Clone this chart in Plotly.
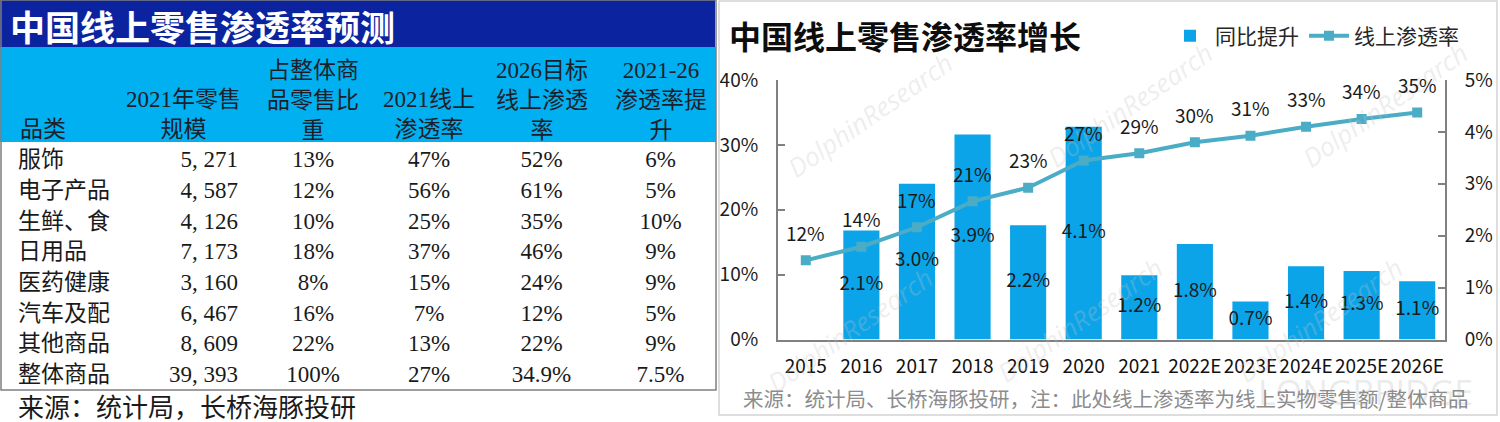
import plotly.graph_objects as go

W, H = 1500, 422

def px(x):
    return x / W

def py(y):
    return 1 - y / H

# ---------------- Left table data ----------------
tbl_title = "中国线上零售渗透率预测"
tbl_headers = ["品类", "2021年零售<br>规模", "占整体商<br>品零售比<br>重",
               "2021线上<br>渗透率", "2026目标<br>线上渗透<br>率", "2021-26<br>渗透率提<br>升"]
tbl_category = ["服饰", "电子产品", "生鲜、食", "日用品", "医药健康", "汽车及配", "其他商品", "整体商品"]
tbl_retail_2021 = ["5, 271", "4, 587", "4, 126", "7, 173", "3, 160", "6, 467", "8, 609", "39, 393"]
tbl_share = ["13%", "12%", "10%", "18%", "8%", "16%", "22%", "100%"]
tbl_online_2021 = ["47%", "56%", "25%", "37%", "15%", "7%", "13%", "27%"]
tbl_target_2026 = ["52%", "61%", "35%", "46%", "24%", "12%", "22%", "34.9%"]
tbl_uplift = ["6%", "5%", "10%", "9%", "9%", "5%", "9%", "7.5%"]
tbl_source = "来源：统计局，长桥海豚投研"

# ---------------- Right chart data ----------------
chart_title = "中国线上零售渗透率增长"
years = ["2015", "2016", "2017", "2018", "2019", "2020", "2021",
         "2022E", "2023E", "2024E", "2025E", "2026E"]
yoy_uplift = [None, 0.021, 0.030, 0.0395, 0.022, 0.041, 0.0124,
              0.0184, 0.0073, 0.0141, 0.0132, 0.0112]
yoy_labels = ["", "2.1%", "3.0%", "3.9%", "2.2%", "4.1%", "1.2%",
              "1.8%", "0.7%", "1.4%", "1.3%", "1.1%"]
online_pen = [0.122, 0.143, 0.173, 0.213, 0.234, 0.276, 0.287,
              0.304, 0.314, 0.328, 0.340, 0.350]
pen_labels = ["12%", "14%", "17%", "21%", "23%", "27%", "29%",
              "30%", "31%", "33%", "34%", "35%"]
chart_source = "来源：统计局、长桥海豚投研，注：此处线上渗透率为线上实物零售额/整体商品"

SANS = "Noto Sans CJK SC"
SERIF = "Liberation Serif, Noto Sans CJK SC"
BAR_C = "#0ba4e8"
LINE_C = "#4bacc6"
AX_C = "#808080"
TBL_TOP, HDR_H, ROW_H = 47, 95, 30.7

fig = go.Figure()

# ---- table ----
col_px = [10, 110, 126, 134, 98, 127, 111]
fig.add_trace(go.Table(
    domain=dict(x=[0, px(716)], y=[py(400), py(TBL_TOP)]),
    columnwidth=col_px,
    header=dict(
        values=[""] * len(col_px),
        fill_color="#00b0f0",
        line=dict(color="#00b0f0", width=0),
        height=HDR_H,
    ),
    cells=dict(
        values=[[""] * len(tbl_category), tbl_category, tbl_retail_2021, tbl_share,
                tbl_online_2021, tbl_target_2026, tbl_uplift],
        fill_color="white",
        line=dict(color="white", width=0),
        align=["left", "left", "right", "center", "center", "center", "center"],
        font=dict(family=SERIF, size=23, color="#1a1a1a"),
        height=ROW_H,
    ),
))

# ---- bars (right axis, main y) ----
fig.add_trace(go.Bar(
    x=years, y=yoy_uplift, name="同比提升",
    marker=dict(color=BAR_C, line=dict(width=0)),
    xaxis="x", yaxis="y", hoverinfo="skip",
))
fig.add_trace(go.Scatter(
    x=years, y=[None if v is None else v / 2 for v in yoy_uplift],
    text=yoy_labels, mode="text", textposition="middle center",
    textfont=dict(family=SANS, size=19, color="#1a1a1a"),
    showlegend=False, xaxis="x", yaxis="y", hoverinfo="skip",
))
# ---- line (left axis, overlaying) ----
fig.add_trace(go.Scatter(
    x=years, y=online_pen, name="线上渗透率", mode="lines+markers",
    line=dict(color=LINE_C, width=4),
    marker=dict(symbol="square", size=10, color=LINE_C),
    xaxis="x", yaxis="y2", hoverinfo="skip",
))

annotations = []
# watermarks (faint)
wm = [(870, 115), (1130, 105), (1385, 105), (850, 330), (1080, 320), (1320, 320)]
for (wx, wy) in wm:
    annotations.append(dict(x=px(wx), y=py(wy), xref="paper", yref="paper",
                            xanchor="center", yanchor="middle",
                            text="<i>DolphinResearch</i>", showarrow=False, textangle=-35,
                            font=dict(family="Open Sans", size=26, color="rgba(195,195,195,0.3)")))
annotations.append(dict(x=px(1365), y=py(392), xref="paper", yref="paper",
                        xanchor="center", yanchor="middle",
                        text="LONGBRIDGE", showarrow=False,
                        font=dict(family="Open Sans", size=34, color="rgba(210,210,210,0.45)")))

# table header texts: bottom-aligned, each line centred in its column
edges = [0]
for w in col_px:
    edges.append(edges[-1] + w)
last_line_y = TBL_TOP + HDR_H - 12
for k, txt in enumerate(tbl_headers):
    col = k + 1
    n_lines = txt.count("<br>") + 1
    yc = last_line_y - (n_lines - 1) * 15
    if col == 1:
        xa, xx = "left", edges[col] + 8
    else:
        xa, xx = "center", (edges[col] + edges[col + 1]) / 2
    annotations.append(dict(x=px(xx), y=py(yc), xref="paper", yref="paper",
                            xanchor=xa, yanchor="middle", align="center",
                            text=txt, showarrow=False,
                            font=dict(family=SERIF, size=23, color="#1e1e2a")))

# line labels (category index positions)
for i, (v, lab) in enumerate(zip(online_pen, pen_labels)):
    annotations.append(dict(x=i, y=v, xref="x", yref="y2", text=lab, showarrow=False,
                            yshift=28, font=dict(family=SANS, size=19, color="#1a1a1a")))

# titles and sources
annotations += [
    dict(x=px(8), y=py(25), xref="paper", yref="paper", xanchor="left", yanchor="middle",
         text=tbl_title, showarrow=False,
         font=dict(family=SANS, size=35, color="white", weight="bold")),
    dict(x=px(16), y=py(408), xref="paper", yref="paper", xanchor="left", yanchor="middle",
         text=tbl_source, showarrow=False,
         font=dict(family=SERIF, size=26, color="#1a1a1a")),
    dict(x=px(727), y=py(35), xref="paper", yref="paper", xanchor="left", yanchor="middle",
         text=chart_title, showarrow=False,
         font=dict(family=SANS, size=32, color="#0d0d0d", weight="bold")),
    dict(x=px(741), y=py(398), xref="paper", yref="paper", xanchor="left", yanchor="middle",
         text=chart_source, showarrow=False,
         font=dict(family=SANS, size=20.5, color="#8c8c8c")),
]

shapes = [
    dict(type="rect", xref="paper", yref="paper", x0=0, x1=px(715), y0=py(TBL_TOP), y1=1,
         fillcolor="#0b239f", line=dict(width=0), layer="below"),
    dict(type="rect", xref="paper", yref="paper", x0=px(1), x1=px(716), y0=py(390), y1=1,
         line=dict(color="#7f7f7f", width=1.5), fillcolor="rgba(0,0,0,0)", layer="above"),
    dict(type="rect", xref="paper", yref="paper", x0=px(719), x1=px(1497), y0=py(415), y1=py(1),
         line=dict(color="#d4d4d4", width=1.5), fillcolor="rgba(0,0,0,0)", layer="above"),
]

axis_common = dict(showgrid=False, zeroline=False, showline=True, linecolor=AX_C, linewidth=2,
                   ticks="inside", ticklen=7, tickwidth=2, tickcolor=AX_C,
                   tickfont=dict(family=SANS, size=19, color="#1a1a1a"), tickformat=".0%")

fig.update_layout(
    width=W, height=H, margin=dict(l=0, r=0, t=0, b=0, autoexpand=False),
    paper_bgcolor="white", plot_bgcolor="rgba(0,0,0,0)",
    bargap=0.35,
    showlegend=True,
    legend=dict(orientation="h", x=px(1165), xanchor="left", y=py(36), yanchor="middle",
                font=dict(family=SANS, size=21, color="#262626"), bgcolor="rgba(0,0,0,0)",
                itemwidth=40, traceorder="normal"),
    xaxis=dict(domain=[px(778), px(1445)], anchor="y", type="category",
               categoryorder="array", categoryarray=years, range=[-0.5, len(years) - 0.5],
               showline=True, linecolor=AX_C, linewidth=2, ticks="", showgrid=False,
               tickfont=dict(family=SANS, size=19, color="#111111"), ticklabelstandoff=9),
    yaxis=dict(domain=[py(339.5), py(80)], anchor="x", side="right", range=[0, 0.05], dtick=0.01,
               ticklabelstandoff=14, **axis_common),
    yaxis2=dict(domain=[py(339.5), py(80)], anchor="x", side="left", overlaying="y",
                range=[0, 0.40], dtick=0.10, ticklabelstandoff=14, **axis_common),
    annotations=annotations,
    shapes=shapes,
)

fig.write_html("out.html")
